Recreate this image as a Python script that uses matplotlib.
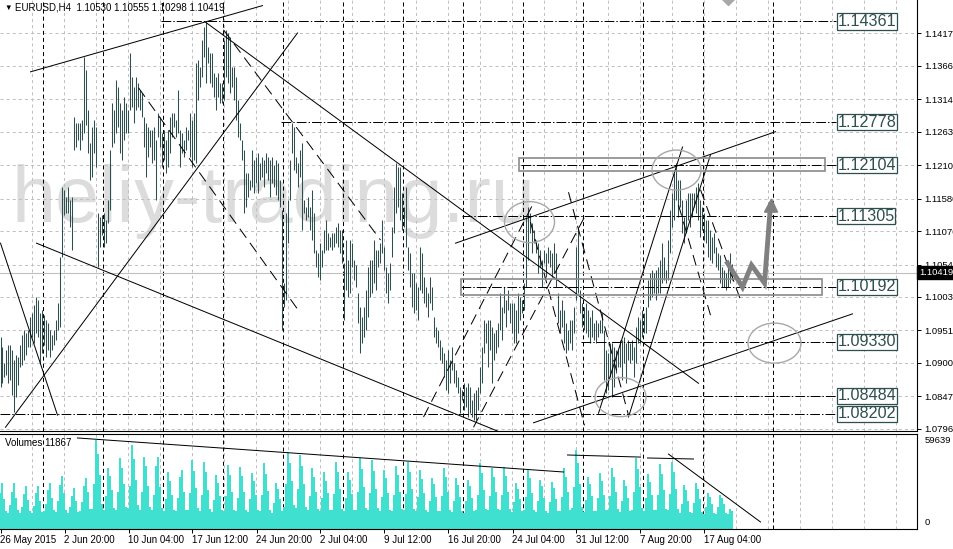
"""
EURUSD H4 chart (MetaTrader style) with drawn levels, trend lines and volumes.
"""

import matplotlib
matplotlib.use("Agg")
import matplotlib.pyplot as plt
import matplotlib.transforms as mtransforms
from matplotlib.patches import Ellipse, Rectangle, Polygon
import numpy as np

plt.rcParams["font.family"] = ["Liberation Sans", "DejaVu Sans"]
plt.rcParams["lines.scale_dashes"] = False

# ---- data -------------------------------------------------------------
# H4 bar highs / lows in pips (price * 1e4), 26 May 2015 -> 19 Aug 2015
highs = [
    10941, 10925, 10900, 10920, 10928, 10928, 10920, 10905, 10912, 10909,
    10928, 10944, 10952, 10947, 10952, 10972, 10978, 10991, 11003, 10999,
    10978, 10983, 10975, 10967, 10963, 10952, 10944, 10952, 10967, 10994,
    11066, 11176,
    11172, 11161, 11176, 11156, 11161, 11286, 11277, 11277, 11277, 11282,
    11380, 11360, 11297, 11245, 11271, 11282, 11271, 11135, 11129, 11132,
    11135, 11124, 11156, 11234, 11308, 11297, 11344, 11333, 11308, 11297,
    11318, 11308, 11297, 11387, 11349, 11333, 11349, 11340, 11329, 11324,
    11286, 11277, 11271, 11266, 11266, 11271, 11250, 11292, 11286, 11261,
    11266, 11250, 11266, 11286, 11292, 11292, 11282, 11329, 11266, 11261,
    11250, 11271, 11266,
    11292, 11282, 11292, 11371, 11376, 11365, 11407, 11428, 11436, 11396,
    11387, 11387, 11355, 11349, 11355, 11340, 11340, 11407, 11423, 11418,
    11412, 11365, 11365, 11349, 11313, 11277, 11250, 11234, 11198, 11198,
    11187, 11234, 11219, 11223, 11230, 11214, 11223, 11219, 11230, 11223,
    11219, 11223, 11211, 11219, 11214, 11187, 11140, 11025, 11135, 11156,
    11219, 11277, 11271, 11223, 11214, 11234, 11245, 11156, 11145, 11161,
    11145, 11172, 11135, 11077, 11073, 11088, 11077, 11109, 11124, 11104,
    11098, 11104, 11104, 11113, 11120, 11109, 11109, 11057, 11093, 11062,
    11093, 11088, 11062, 11054, 11010, 10988, 10972, 10988, 11014, 11051,
    11062, 11062,
    11093, 11077, 11077, 11088, 11124, 11082, 11051, 11041, 11057, 11113,
    11176, 11214, 11208, 11208, 11167, 11145, 11176, 11082, 11073, 11041,
    11041, 11025, 11019, 11082, 11073, 11035, 11019, 11010, 11035, 11019,
    10972, 10956, 10952, 10936, 10925, 10916, 10905, 10920, 10905, 10925,
    10900, 10889, 10878, 10862, 10857, 10868, 10862, 10868, 10862, 10842,
    10853, 10857, 10862, 10894, 10925, 10967, 10963, 10967, 10967, 10956,
    10947, 10952, 10963, 11010, 10988, 11019, 10999, 11014, 10994, 10994,
    10994, 10983, 11010, 11003, 10999, 11025, 11129, 11145, 11135, 11120,
    11109, 11093, 11088, 11077, 11062, 11077, 11073, 11082, 11077, 11073,
    11088, 11073, 11010,
    10983, 10999, 10983, 10963, 10952, 10967, 10967, 10988, 11082, 11113,
    11014, 10994, 10988, 10994, 10983, 10972, 10983, 10963, 10967, 10963,
    10967, 10978, 10952, 10920, 10916, 10931, 10931, 10925, 10920, 10920,
    10936, 10936, 10941, 10931, 10936, 10931, 10936, 10925, 10956, 10972,
    10967, 10983, 10978, 10988, 11030, 11041, 11046, 11041, 11046, 11051,
    11062, 11088, 11066, 11046, 11093, 11140, 11167, 11198, 11214, 11187,
    11187, 11156, 11129, 11156, 11167, 11167, 11167, 11167, 11176, 11183,
    11156, 11145, 11135, 11124, 11124, 11109, 11098, 11104, 11082, 11073,
    11069, 11051, 11046, 11041, 11062, 11073, 11056,
]
lows = [
    10862, 10868, 10878, 10881, 10868, 10873, 10850, 10823, 10846, 10865,
    10894, 10897, 10905, 10912, 10925, 10925, 10941, 10931, 10947, 10941,
    10900, 10916, 10928, 10909, 10920, 10909, 10920, 10928, 10936, 10952,
    10956, 11066,
    11132, 11135, 11135, 11113, 11077, 11234, 11239, 11250, 11234, 11250,
    11261, 11274, 11230, 11187, 11192, 11230, 11208, 11051, 11082, 11101,
    11082, 11088, 11120, 11140, 11239, 11245, 11261, 11271, 11230, 11219,
    11250, 11261, 11261, 11297, 11302, 11277, 11297, 11302, 11297, 11286,
    11239, 11192, 11223, 11239, 11214, 11219, 11156, 11255, 11239, 11208,
    11219, 11198, 11208, 11230, 11255, 11271, 11255, 11261, 11208, 11230,
    11223, 11234, 11250,
    11223, 11208, 11219, 11214, 11313, 11333, 11349, 11380, 11340, 11371,
    11340, 11333, 11318, 11297, 11318, 11308, 11308, 11313, 11349, 11340,
    11324, 11333, 11313, 11282, 11255, 11250, 11219, 11135, 11145, 11161,
    11172, 11176, 11167, 11183, 11167, 11187, 11192, 11176, 11198, 11187,
    11161, 11183, 11176, 11164, 11156, 11145, 10952, 10988, 10999, 11088,
    11156, 11230, 11203, 11198, 11176, 11192, 11109, 11135, 11124, 11129,
    11109, 11093, 11073, 11051, 11035, 11030, 11051, 11073, 11077, 11077,
    11082, 11077, 11082, 11088, 11082, 11073, 11057, 10967, 11014, 11003,
    11010, 11051, 11030, 11019, 10963, 10916, 10931, 10941, 10952, 10972,
    11003, 11010,
    11025, 11014, 11051, 11057, 11073, 11046, 11010, 10994, 11014, 11066,
    11104, 11135, 11145, 11124, 11109, 11113, 11082, 11046, 11019, 10988,
    10978, 10983, 10967, 11014, 11010, 10994, 10988, 10972, 10994, 10983,
    10941, 10931, 10925, 10905, 10900, 10878, 10857, 10853, 10868, 10889,
    10868, 10862, 10853, 10821, 10842, 10826, 10831, 10815, 10821, 10815,
    10810, 10810, 10826, 10853, 10868, 10916, 10931, 10894, 10920, 10868,
    10905, 10916, 10925, 10952, 10936, 10978, 10956, 10983, 10963, 10947,
    10931, 10931, 10947, 10967, 10978, 10983, 11019, 11062, 11104, 11073,
    11088, 11073, 11041, 11051, 11019, 11057, 11035, 11057, 11051, 11035,
    11041, 11019, 10963,
    10947, 10956, 10931, 10916, 10920, 10931, 10920, 10947, 10999, 11010,
    10978, 10956, 10952, 10947, 10941, 10931, 10941, 10936, 10931, 10941,
    10947, 10947, 10873, 10853, 10857, 10878, 10846, 10862, 10884, 10894,
    10894, 10873, 10900, 10868, 10905, 10900, 10905, 10878, 10900, 10931,
    10931, 10941, 10947, 10947, 10988, 10999, 11003, 11010, 10999, 11010,
    11010, 11025, 11030, 11025, 11030, 11073, 11113, 11124, 11156, 11129,
    11145, 11104, 11088, 11104, 11124, 11113, 11129, 11145, 11135, 11124,
    11098, 11109, 11093, 11088, 11066, 11062, 11057, 11073, 11051, 11046,
    11025, 11019, 11019, 11014, 11019, 11025, 11030,
]
# tick volumes, one row per trading day
volumes = [
    24000, 31000, 20000, 12000,
    11000, 16000, 25000, 30800, 21000, 12500,
    10500, 15000, 23500, 28800, 19500, 12000,
    11000, 15500, 24000, 28500, 19000, 11500,
    12000, 17000, 26000, 30900, 21000, 12500,
    11500, 18500, 29500, 35500, 24000, 13000,
    10500, 14500, 22000, 27400, 19000, 11500,
    12000, 18000, 28500, 34100, 24500, 13500,
    13500, 30000, 59639, 50000, 36000, 17000,
    12500, 22000, 41000, 35500, 26000, 14000,
    13000, 25000, 47600, 41000, 30000, 15000,
    14000, 29000, 56200, 47000, 33000, 16000,
    13000, 25000, 48200, 42000, 29000, 14500,
    12500, 23000, 42000, 48000, 28000, 14000,
    12000, 20000, 38200, 32000, 23000, 13000,
    12000, 21000, 35000, 39500, 25000, 13000,
    12500, 24000, 46200, 39000, 27500, 14000,
    12000, 23000, 44900, 38000, 26000, 13500,
    11500, 19500, 36200, 31000, 22000, 12500,
    12000, 22000, 42900, 36000, 25000, 13000,
    12000, 21000, 41500, 35500, 24500, 13000,
    11500, 20000, 37500, 32000, 23000, 12500,
    12000, 22500, 44200, 37000, 25500, 13000,
    11000, 17500, 30800, 27000, 20000, 12000,
    15000, 30000, 51600, 44000, 32000, 16000,
    14000, 27000, 49600, 42000, 30000, 15000,
    12500, 22000, 40900, 35000, 25000, 13500,
    12000, 21000, 38200, 32500, 24000, 13000,
    12500, 23500, 44900, 38000, 26500, 13500,
    12000, 20500, 38200, 33000, 23500, 12800,
    13000, 25000, 47600, 40000, 28000, 14000,
    13000, 24000, 46200, 39000, 27000, 14000,
    12000, 21500, 39500, 34000, 24000, 13000,
    12300, 22500, 42200, 36000, 25000, 13200,
    12600, 23500, 44900, 38000, 26500, 13600,
    12000, 21500, 39500, 33500, 24000, 12900,
    11300, 19000, 34200, 30000, 21500, 12200,
    12300, 22000, 40900, 35000, 24500, 13000,
    11200, 19000, 34200, 29500, 21500, 12100,
    11000, 18500, 32800, 28500, 21000, 11900,
    12800, 23000, 44200, 37500, 26000, 13500,
    12400, 22000, 40900, 35000, 24500, 13100,
    12500, 22500, 41500, 35500, 25000, 13200,
    11100, 18000, 30800, 27000, 20000, 11800,
    12600, 21500, 39500, 34000, 24000, 13000,
    11300, 18500, 32800, 28500, 21000, 12000,
    11000, 18000, 31500, 27500, 20000, 11800,
    12000, 21500, 40900, 35000, 24500, 12800,
    14000, 28000, 52900, 44000, 30000, 15000,
    11500, 19500, 34800, 30000, 22000, 12300,
    11800, 20500, 37500, 32000, 23000, 12600,
    12500, 22000, 40900, 35000, 25000, 13200,
    11200, 18500, 32800, 28500, 21000, 12000,
    13000, 24500, 47600, 40000, 28000, 14000,
    11800, 20500, 36800, 31500, 22500, 12500,
    12500, 23000, 43500, 37000, 26000, 13300,
    12600, 23500, 44900, 38000, 26500, 13500,
    10800, 17000, 29500, 26000, 19000, 11500,
    11000, 17500, 30800, 27000, 20000, 11600,
    10200, 15000, 24100, 21500, 17000, 10800,
    10000, 14500, 22800, 20500, 16500, 10600,
    9800, 13500, 11867,
]

time_labels = ["26 May 2015", "2 Jun 20:00", "10 Jun 04:00", "17 Jun 12:00",
               "24 Jun 20:00", "2 Jul 04:00", "9 Jul 12:00", "16 Jul 20:00",
               "24 Jul 04:00", "31 Jul 12:00", "7 Aug 20:00", "17 Aug 04:00"]
price_ticks = [1.14175, 1.13665, 1.13140, 1.12630, 1.12105, 1.11580, 1.11070,
               1.10545, 1.10035, 1.09510, 1.09000, 1.08475, 1.07965]

# horizontal levels: price, first bar of the line
level_prices = [1.14361, 1.12778, 1.12104, 1.11305, 1.10192, 1.09330, 1.08484, 1.08202]
level_starts = [80.5, 140.5, 260.5, 231, 230.5, 290.5, 290.5, -0.5]

bid_price = 1.10419
header = "EURUSD,H4  1.10530 1.10555 1.10298 1.10419"

# drawn objects, anchored at (bar, price) like terminal objects
solid_lines = [
    ((15, 1.1357), (131, 1.1461)),
    ((0, 1.1088), (28.5, 1.0818)),
    ((2.5, 1.0799), (148.5, 1.1418)),
    ((18, 1.1088), (248.5, 1.0793)),
    ((102.5, 1.1435), (349, 1.0868)),
    ((299, 1.0821), (341, 1.1239)),
    ((314, 1.0815), (355, 1.1227)),
    ((227.5, 1.1088), (387.5, 1.1263)),
    ((266.5, 1.0806), (426, 1.0977)),
]
dashed_lines = [
    ((69, 1.1332), (150, 1.0978)),
    ((111.5, 1.1423), (190, 1.1093)),
    ((211.5, 1.0815), (266, 1.1148)),
    ((236.5, 1.0799), (292.5, 1.1132)),
    ((265, 1.1121), (292, 1.0802)),
    ((284, 1.1168), (314, 1.0818)),
    ((339, 1.1148), (355, 1.0975)),
    ((350, 1.1172), (370, 1.0999)),
]
zones = [((259.5, 412.5), (1.12012, 1.12216)),
         ((230.5, 411.0), (1.10065, 1.10316))]
circles = [(264.5, 1.11211, 25, 0.00644), (338, 1.12028, 24.5, 0.00628),
           (310, 1.08463, 25.5, 0.00613), (387, 1.09311, 26.5, 0.00628)]
forecast_x = [363.5, 371, 375.5, 382, 385]
forecast_y = [1.10567, 1.10190, 1.10536, 1.10253, 1.11478]
volume_lines = [((38.5, 61000), (281.5, 38200)), ((283.5, 49600), (320, 48200)),
                ((323.5, 47600), (346.5, 46900)), ((334, 50200), (380, 4700))]

# ---- figure -------------------------------------------------------------
W, H = 954, 549
BAR_COLOR = "#2F4F4F"
GRID = dict(color="#C0C0C0", lw=0.72, ls=(0, (2.2, 2.2)))
SEP = dict(color="black", lw=0.72, ls=(0, (2.9, 2.2)))

fig = plt.figure(figsize=(W / 100, H / 100), dpi=100)
ax = fig.add_axes([0, 118 / H, 917 / W, 431 / H])
axv = fig.add_axes([0, 20 / H, 917 / W, 95 / H])

n = len(highs)
idx = np.arange(n)
hi = np.array(highs) / 1e4
lo = np.array(lows) / 1e4
vol = np.array(volumes)

x_lim = (-0.25, 458.25)
for a in (ax, axv):
    a.set_xlim(*x_lim)
    for b in np.arange(16, 458, 16):
        a.axvline(b, zorder=0.6, **GRID)
    for b in np.arange(21.5, n, 30):
        a.axvline(b, zorder=0.7, **SEP)
    a.axvline(386.5, zorder=0.7, **SEP)
    a.spines["left"].set_visible(False)
    for s in ("right", "bottom", "top"):
        a.spines[s].set_linewidth(0.8)
ax.spines["top"].set_visible(False)

ax.set_ylim(1.07931, 1.14698)
for p in price_ticks:
    ax.axhline(p, zorder=0.6, **GRID)

# watermark
ax.text(5.5, 1.11211, "heliy-trading.ru", fontsize=57, color="#DCDCDC",
        ha="left", va="baseline", zorder=0.5)

# bid line
ax.axhline(bid_price, color="#C0C0C0", lw=0.8, zorder=1)

# price bars
ax.vlines(idx, lo, hi, color=BAR_COLOR, lw=0.75, zorder=3)

# horizontal levels with price boxes
label_bar = 418.5
for p, start in zip(level_prices, level_starts):
    ax.plot([start, 417.75], [p, p], color="black", lw=0.72,
            ls=(0, (7, 1.5, 1, 1.5)), zorder=4)
    ax.text(label_bar, p, f"{p:.5f}", ha="left", va="center", fontsize=11.6,
            color="#2F4F4F", zorder=6,
            bbox=dict(boxstyle="square,pad=0.04", fc="white", ec="#2F4F4F", lw=0.9))

for (x0, y0), (x1, y1) in solid_lines:
    ax.plot([x0, x1], [y0, y1], color="black", lw=0.72, zorder=4)
for (x0, y0), (x1, y1) in dashed_lines:
    ax.plot([x0, x1], [y0, y1], color="black", lw=0.72, ls=(0, (8, 4.5)), zorder=4)

for (x0, x1), (y0, y1) in zones:
    ax.add_patch(Rectangle((x0, y0), x1 - x0, y1 - y0, fill=False,
                           ec="#8A8A8A", lw=1.2, zorder=4))
for cx, cy, w, h in circles:
    ax.add_patch(Ellipse((cx, cy), w, h, fill=False, ec="#A8A8A8", lw=1.0, zorder=4))

# projected move
ax.plot(forecast_x, forecast_y, color="#808080", lw=3.5, zorder=5,
        solid_joinstyle="miter")
ax.add_patch(Polygon([(382, 1.11368), (388.5, 1.11368), (385.5, 1.11573)],
                     closed=True, color="#808080", zorder=5))
ax.plot([364], [1.1473], marker="D", ms=7, color="#A8A8A8", zorder=5)

# right price scale
ax.yaxis.tick_right()
ax.set_yticks(price_ticks)
ax.set_yticklabels([f"{p:.5f}" for p in price_ticks])
ax.tick_params(axis="y", length=3, width=0.7, pad=2, labelsize=6.8, direction="out")
ax.tick_params(axis="x", bottom=False, labelbottom=False)

blend = mtransforms.blended_transform_factory(ax.transAxes, ax.transData)
ax.text(1.002, bid_price, f"{bid_price:.5f}", transform=blend, ha="left",
        va="center", fontsize=6.8, color="white", zorder=7, clip_on=False,
        bbox=dict(boxstyle="square,pad=0.2", fc="black", ec="black"))

# ---- volume panel -----------------------------------------------------------
axv.bar(idx, vol, width=1.0, color="#40E0D0", linewidth=0, zorder=2)
axv.set_ylim(0, 63660)
for (x0, y0), (x1, y1) in volume_lines:
    axv.plot([x0, x1], [y0, y1], color="black", lw=0.72, zorder=4)
axv.set_yticks([])
axv.set_xticks(np.arange(len(time_labels)) * 32)
axv.set_xticklabels(time_labels, ha="left")
axv.tick_params(axis="x", length=3, width=0.7, pad=1.5, labelsize=7)
axv.text(1.008, 59639, f"{max(volumes)}", transform=mtransforms.blended_transform_factory(
    axv.transAxes, axv.transData), ha="left", va="center", fontsize=6.8, clip_on=False)
axv.text(1.008, 0.065, "0", transform=axv.transAxes, ha="left", va="center",
         fontsize=6.8, clip_on=False)
axv.text(0.005, 0.9, f"Volumes {volumes[-1]}", transform=axv.transAxes,
         ha="left", va="center", fontsize=7)

# header
fig.text(4 / W, 1 - 8 / H, "\u25bc", fontsize=5.5, ha="left", va="center")
fig.text(15 / W, 1 - 8 / H, header, fontsize=7, ha="left", va="center")

fig.savefig("out.png", dpi=100)
